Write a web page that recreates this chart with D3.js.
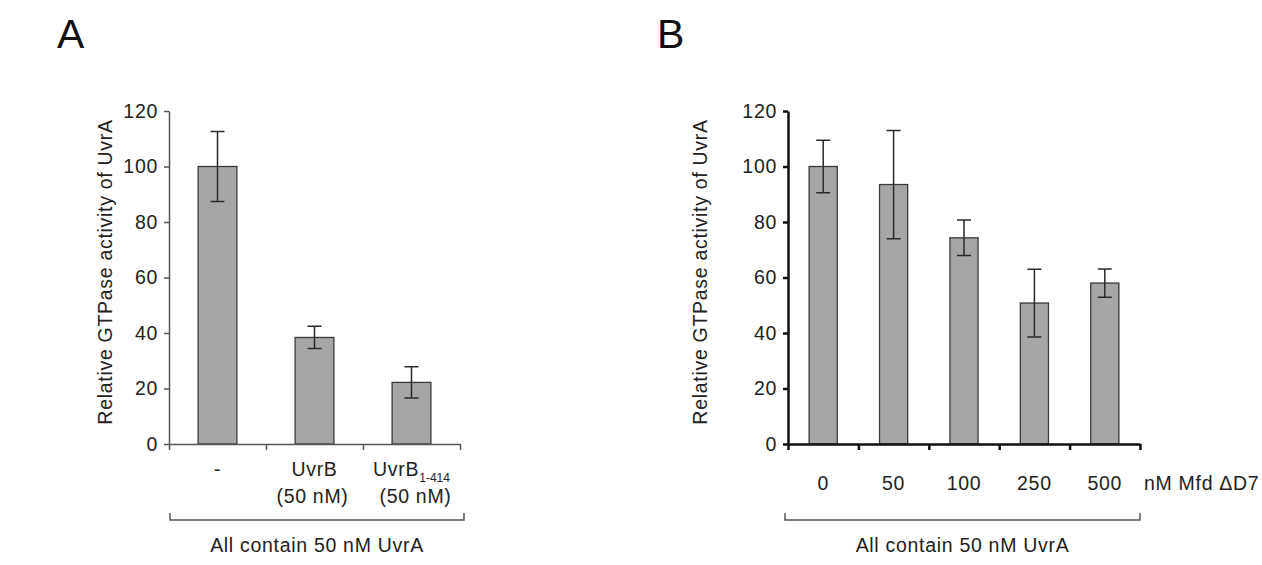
<!DOCTYPE html>
<html>
<head>
<meta charset="utf-8">
<script src="https://cdn.jsdelivr.net/npm/d3@7"></script>
<style>
  body { margin: 0; background: #fff; }
  svg { font-family: "Liberation Sans", Arial, sans-serif; }
  svg text { letter-spacing: 0.7px; }
</style>
</head>
<body>
<div id="chart"></div>
<script>
// panel A data
var catsA = ["-", "UvrB", "UvrB1-414"];
var valsA = [100, 38.4, 22.2];
var errA = [12.6, 4.0, 5.6];

// panel B data
var catsB = ["0", "50", "100", "250", "500"];
var valsB = [100, 93.5, 74.3, 50.8, 58.0];
var errB = [9.5, 19.5, 6.4, 12.2, 5.1];

var yTicks = [0, 20, 40, 60, 80, 100, 120];

var W = 1262, H = 565, fs = 19.5;

var svg = d3.select("#chart").append("svg")
  .attr("width", W)
  .attr("height", H);

function drawPanel(o){
  var x = d3.scaleBand().domain(o.cats).range([o.x0, o.x1]).padding(0);
  var y = d3.scaleLinear().domain([0, 120]).range([444, 111]);
  var idx = d3.scaleLinear().domain([0, o.cats.length]).range([o.x0, o.x1]);
  var bw = x.bandwidth() * 0.4;

  var g = svg.append("g");

  // bars
  g.selectAll("rect.bar").data(o.vals).enter().append("rect")
    .attr("class", "bar")
    .attr("x", function(d, i){ return x(o.cats[i]) + x.bandwidth()/2 - bw/2; })
    .attr("y", function(d){ return y(d); })
    .attr("width", bw)
    .attr("height", function(d){ return y(0) - y(d); })
    .attr("fill", "#a6a6a6")
    .attr("stroke", "#3a3a3a")
    .attr("stroke-width", 1.3);

  // error bars
  var cap = 7;
  o.vals.forEach(function(v, i){
    var cx = x(o.cats[i]) + x.bandwidth()/2;
    var e = o.err[i];
    var p = d3.path();
    p.moveTo(cx, y(v + e)); p.lineTo(cx, y(v - e));
    p.moveTo(cx - cap, y(v + e)); p.lineTo(cx + cap, y(v + e));
    p.moveTo(cx - cap, y(v - e)); p.lineTo(cx + cap, y(v - e));
    g.append("path").attr("d", p.toString())
      .attr("fill", "none")
      .attr("stroke", "#2a2a2a")
      .attr("stroke-width", 1.5);
  });

  // y axis
  var ya = g.append("g")
    .attr("transform", "translate(" + o.x0 + ",0)")
    .call(d3.axisLeft(y).tickValues(yTicks).tickSize(5).tickSizeOuter(0).tickPadding(6));
  ya.selectAll("text").attr("font-size", fs).attr("fill", "#222").attr("font-family", null);
  ya.selectAll("line,path").attr("stroke", o.axisColor).attr("stroke-width", o.axisWidth);

  // x axis (ticks at category boundaries)
  var xa = g.append("g")
    .attr("transform", "translate(0," + y(0) + ")")
    .call(d3.axisBottom(idx).ticks(o.cats.length).tickFormat("").tickSize(6).tickSizeOuter(0));
  xa.selectAll("line,path").attr("stroke", o.axisColor).attr("stroke-width", o.axisWidth);

  // y title
  g.append("text")
    .attr("transform", "translate(" + o.titleX + ",272) rotate(-90)")
    .attr("text-anchor", "middle")
    .attr("font-size", fs)
    .attr("fill", "#222")
    .text("Relative GTPase activity of UvrA");

  // bracket
  g.append("path")
    .attr("d", "M" + o.bx0 + ",513V520H" + o.bx1 + "V513")
    .attr("fill", "none")
    .attr("stroke", "#555")
    .attr("stroke-width", 1.5);

  g.append("text")
    .attr("x", (o.bx0 + o.bx1)/2)
    .attr("y", 552)
    .attr("text-anchor", "middle")
    .attr("font-size", fs)
    .attr("fill", "#222")
    .text("All contain 50 nM UvrA");

  // panel letter
  svg.append("text")
    .attr("x", o.letterX)
    .attr("y", 48)
    .attr("font-size", 41)
    .attr("fill", "#111")
    .text(o.letter);

  return {x: x, g: g};
}

// panel A
var pa = drawPanel({
  cats: catsA, vals: valsA, err: errA,
  x0: 169, x1: 460, axisColor: "#555", axisWidth: 1.5,
  titleX: 112, bx0: 170, bx1: 464, letterX: 57, letter: "A"
});

catsA.forEach(function(c, i){
  var cx = pa.x(c) + pa.x.bandwidth()/2;
  var t = pa.g.append("text")
    .attr("x", cx).attr("y", 476)
    .attr("text-anchor", "middle")
    .attr("font-size", fs).attr("fill", "#222");
  if(c == "UvrB1-414"){
    t.append("tspan").text("UvrB");
    t.append("tspan").attr("dy", 6).attr("font-size", 12).style("letter-spacing", "0px").text("1-414");
  } else {
    t.text(c);
  }
  if(i > 0){
    pa.g.append("text")
      .attr("x", cx + (i == 2 ? 4 : -2)).attr("y", 503)
      .attr("text-anchor", "middle")
      .attr("font-size", fs).attr("fill", "#222")
      .text("(50 nM)");
  }
});

// panel B
var pb = drawPanel({
  cats: catsB, vals: valsB, err: errB,
  x0: 788, x1: 1140, axisColor: "#111", axisWidth: 2.5,
  titleX: 707, bx0: 785, bx1: 1140, letterX: 657, letter: "B"
});

catsB.forEach(function(c){
  pb.g.append("text")
    .attr("x", pb.x(c) + pb.x.bandwidth()/2).attr("y", 490)
    .attr("text-anchor", "middle")
    .attr("font-size", fs).attr("fill", "#222")
    .text(c);
});

pb.g.append("text")
  .attr("x", 1144).attr("y", 490)
  .attr("font-size", fs).attr("fill", "#222")
  .text("nM Mfd \u0394D7");
</script>
</body>
</html>
